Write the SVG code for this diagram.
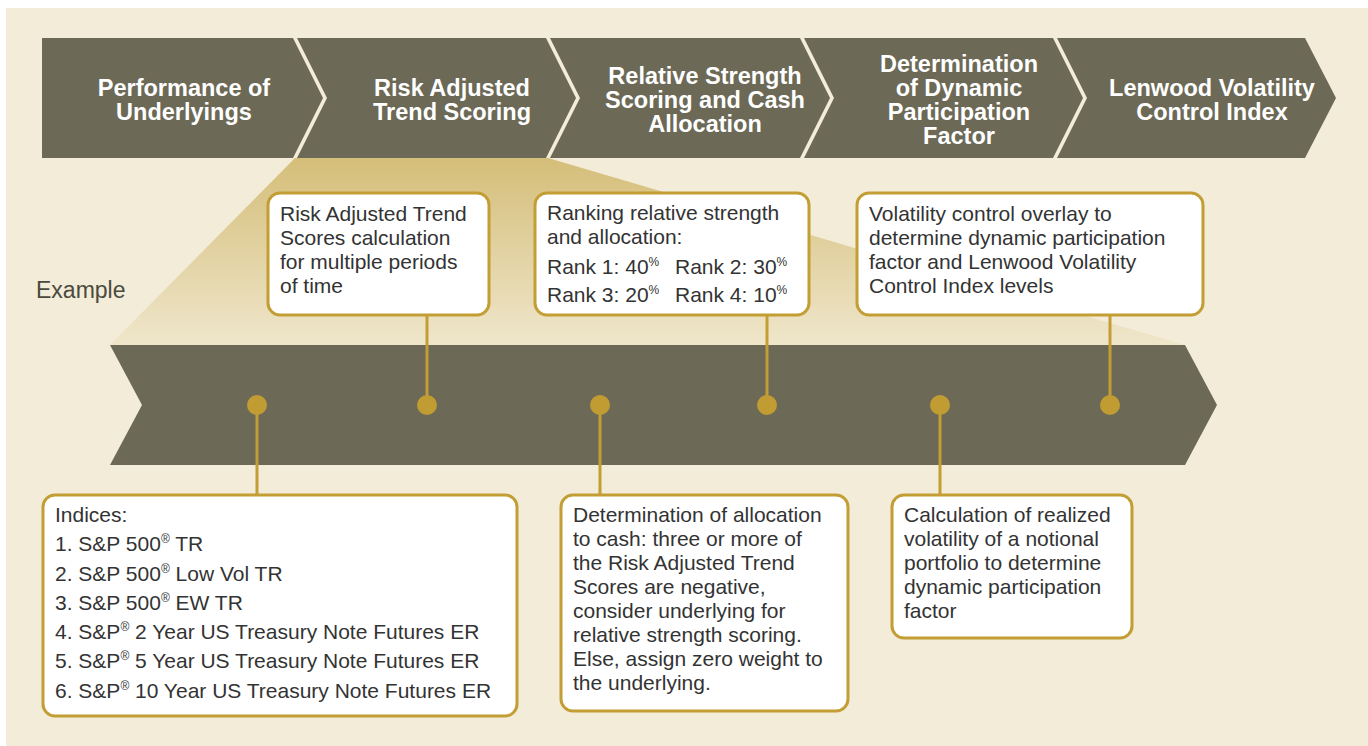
<svg xmlns="http://www.w3.org/2000/svg" width="1368" height="746" viewBox="0 0 1368 746">
<defs>
<style>
.band{fill:#6c6956}
.head{font-family:"Liberation Sans",Arial,sans-serif;font-weight:bold;font-size:23.5px;fill:#ffffff;text-anchor:middle}
.box{fill:#ffffff;stroke:#c29e35;stroke-width:3}
.txt{font-family:"Liberation Sans",Arial,sans-serif;font-size:21px;fill:#333333}
.sup{font-size:12px}
.dot{fill:#c09c32}
.conn{stroke:#c29e35;stroke-width:3;fill:none}
.ex{font-family:"Liberation Sans",Arial,sans-serif;font-size:23px;fill:#4a4a3e}
</style>
<linearGradient id="fan" x1="0" y1="158" x2="0" y2="345" gradientUnits="userSpaceOnUse">
<stop offset="0" stop-color="#d5be79"/>
<stop offset="1" stop-color="#efe6cb"/>
</linearGradient>
</defs>
<rect x="0" y="0" width="1368" height="746" fill="#ffffff"/>
<rect x="6" y="8" width="1362" height="738" fill="#f3ecd8"/>

<polygon id="fan-area" points="295,158 548,158 1185,345 110,345" fill="url(#fan)"/>

<g id="step1">
<polygon class="band" points="42,38 293,38 323,98 293,158 42,158"/>
<text class="head" x="184" y="96">Performance of</text>
<text class="head" x="184" y="120">Underlyings</text>
</g>
<g id="step2">
<polygon class="band" points="297,38 546,38 576,98 546,158 297,158 327,98"/>
<text class="head" x="452" y="96">Risk Adjusted</text>
<text class="head" x="452" y="120">Trend Scoring</text>
</g>
<g id="step3">
<polygon class="band" points="550,38 800,38 830,98 800,158 550,158 580,98"/>
<text class="head" x="705" y="84">Relative Strength</text>
<text class="head" x="705" y="108">Scoring and Cash</text>
<text class="head" x="705" y="132">Allocation</text>
</g>
<g id="step4">
<polygon class="band" points="804,38 1053,38 1083,98 1053,158 804,158 834,98"/>
<text class="head" x="959" y="72">Determination</text>
<text class="head" x="959" y="96">of Dynamic</text>
<text class="head" x="959" y="120">Participation</text>
<text class="head" x="959" y="144">Factor</text>
</g>
<g id="step5">
<polygon class="band" points="1057,38 1305,38 1336,98 1305,158 1057,158 1087,98"/>
<text class="head" x="1212" y="96">Lenwood Volatility</text>
<text class="head" x="1212" y="120">Control Index</text>
</g>

<text id="example-label" class="ex" x="36" y="298">Example</text>

<g id="timeline">
<polygon class="band" points="110,345 1185,345 1217,405 1185,465 110,465 142,405"/>
</g>

<g id="connectors">
<line class="conn" x1="257" y1="405" x2="257" y2="495"/>
<line class="conn" x1="427" y1="405" x2="427" y2="315"/>
<line class="conn" x1="600" y1="405" x2="600" y2="495"/>
<line class="conn" x1="767" y1="405" x2="767" y2="315"/>
<line class="conn" x1="940" y1="405" x2="940" y2="495"/>
<line class="conn" x1="1110" y1="405" x2="1110" y2="315"/>
<circle class="dot" cx="257" cy="405" r="10"/>
<circle class="dot" cx="427" cy="405" r="10"/>
<circle class="dot" cx="600" cy="405" r="10"/>
<circle class="dot" cx="767" cy="405" r="10"/>
<circle class="dot" cx="940" cy="405" r="10"/>
<circle class="dot" cx="1110" cy="405" r="10"/>
</g>

<g id="box-trend">
<rect class="box" x="268" y="193" width="221" height="122" rx="12"/>
<text class="txt" x="280" y="221">Risk Adjusted Trend</text>
<text class="txt" x="280" y="245">Scores calculation</text>
<text class="txt" x="280" y="269">for multiple periods</text>
<text class="txt" x="280" y="293">of time</text>
</g>

<g id="box-ranking">
<rect class="box" x="535" y="193" width="274" height="122" rx="12"/>
<text class="txt" x="547" y="220">Ranking relative strength</text>
<text class="txt" x="547" y="244">and allocation:</text>
<text class="txt" x="547" y="274">Rank 1: 40<tspan class="sup" dy="-8">%</tspan></text>
<text class="txt" x="675" y="274">Rank 2: 30<tspan class="sup" dy="-8">%</tspan></text>
<text class="txt" x="547" y="302">Rank 3: 20<tspan class="sup" dy="-8">%</tspan></text>
<text class="txt" x="675" y="302">Rank 4: 10<tspan class="sup" dy="-8">%</tspan></text>
</g>

<g id="box-volcontrol">
<rect class="box" x="857" y="193" width="346" height="122" rx="12"/>
<text class="txt" x="869" y="221">Volatility control overlay to</text>
<text class="txt" x="869" y="245">determine dynamic participation</text>
<text class="txt" x="869" y="269">factor and Lenwood Volatility</text>
<text class="txt" x="869" y="293">Control Index levels</text>
</g>

<g id="box-indices">
<rect class="box" x="43" y="495" width="474" height="221" rx="12"/>
<text class="txt" x="55" y="522">Indices:</text>
<text class="txt" x="55" y="551">1. S&amp;P 500<tspan class="sup" dy="-8">®</tspan><tspan dy="8"> TR</tspan></text>
<text class="txt" x="55" y="581">2. S&amp;P 500<tspan class="sup" dy="-8">®</tspan><tspan dy="8"> Low Vol TR</tspan></text>
<text class="txt" x="55" y="610">3. S&amp;P 500<tspan class="sup" dy="-8">®</tspan><tspan dy="8"> EW TR</tspan></text>
<text class="txt" x="55" y="639">4. S&amp;P<tspan class="sup" dy="-8">®</tspan><tspan dy="8"> 2 Year US Treasury Note Futures ER</tspan></text>
<text class="txt" x="55" y="668">5. S&amp;P<tspan class="sup" dy="-8">®</tspan><tspan dy="8"> 5 Year US Treasury Note Futures ER</tspan></text>
<text class="txt" x="55" y="698">6. S&amp;P<tspan class="sup" dy="-8">®</tspan><tspan dy="8"> 10 Year US Treasury Note Futures ER</tspan></text>
</g>

<g id="box-cash">
<rect class="box" x="561" y="495" width="287" height="216" rx="12"/>
<text class="txt" x="573" y="522">Determination of allocation</text>
<text class="txt" x="573" y="546">to cash: three or more of</text>
<text class="txt" x="573" y="570">the Risk Adjusted Trend</text>
<text class="txt" x="573" y="594">Scores are negative,</text>
<text class="txt" x="573" y="618">consider underlying for</text>
<text class="txt" x="573" y="642">relative strength scoring.</text>
<text class="txt" x="573" y="666">Else, assign zero weight to</text>
<text class="txt" x="573" y="690">the underlying.</text>
</g>

<g id="box-realized">
<rect class="box" x="892" y="495" width="240" height="143" rx="12"/>
<text class="txt" x="904" y="522">Calculation of realized</text>
<text class="txt" x="904" y="546">volatility of a notional</text>
<text class="txt" x="904" y="570">portfolio to determine</text>
<text class="txt" x="904" y="594">dynamic participation</text>
<text class="txt" x="904" y="618">factor</text>
</g>
</svg>
